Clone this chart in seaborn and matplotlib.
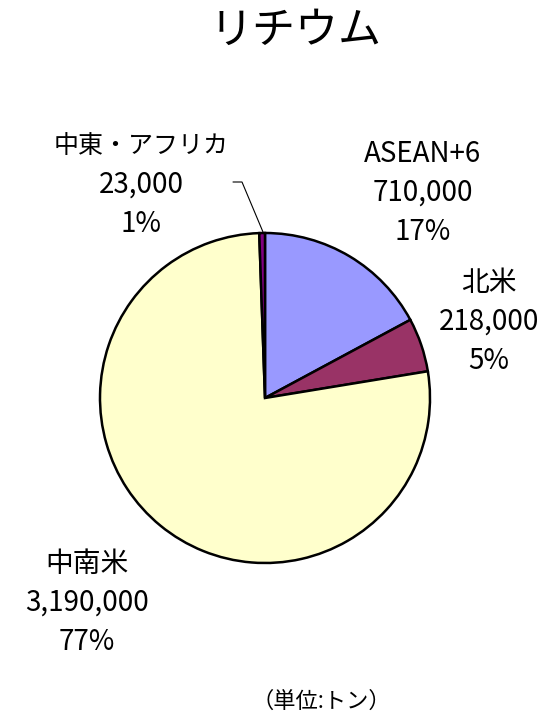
import matplotlib
matplotlib.use("Agg")
import matplotlib.pyplot as plt
import seaborn as sns

# Lithium reserves by region (tonnes)
regions = ["ASEAN+6", "北米", "中南米", "中東・アフリカ"]
amounts = [710000, 218000, 3190000, 23000]
slice_colors = ["#9999FF", "#993366", "#FFFFCC", "#800080"]

title = "リチウム"
unit_note = "（単位:トン）"

sns.set_theme(style="white")
plt.rcParams["font.family"] = ["Noto Sans CJK JP", "DejaVu Sans"]

W, H = 559, 719
fig = plt.figure(figsize=(W / 100, H / 100), dpi=100)
ax = fig.add_axes([0, 0, 1, 1])

palette = sns.color_palette(slice_colors)
ax.pie(amounts, colors=palette, startangle=90, counterclock=False,
       center=(265, 321), radius=165,
       wedgeprops=dict(edgecolor="black", linewidth=1.8))

# pixel-based canvas coordinates (pie resets the limits, so set them afterwards)
ax.set_xlim(0, W)
ax.set_ylim(0, H)
ax.set_aspect("equal")
ax.axis("off")

total = sum(amounts)
# centre of the middle line of each label block
label_pos = {
    "ASEAN+6": (423, 719 - 193),
    "北米": (489, 719 - 322),
    "中南米": (87, 719 - 603),
    "中東・アフリカ": (141, 719 - 185),
}
line_gap = 39
for name, val in zip(regions, amounts):
    pct = round(val / total * 100)
    x, y = label_pos[name]
    # the full-width middle dot makes this name run wide, so set it a bit smaller
    name_size = 18 if "・" in name else 20
    ax.text(x, y + line_gap, name, ha="center", va="center",
            fontsize=name_size, color="black")
    ax.text(x, y, f"{val:,}", ha="center", va="center",
            fontsize=20, color="black")
    ax.text(x, y - line_gap, f"{pct}%", ha="center", va="center",
            fontsize=20, color="black")

# leader line for the smallest slice
ax.plot([233, 242, 263], [719 - 182, 719 - 182, 719 - 232],
        color="black", linewidth=0.8)

ax.text(296, 719 - 31, title, ha="center", va="center", fontsize=31, color="black")
ax.text(321, 719 - 701, unit_note, ha="center", va="center", fontsize=16, color="black")

fig.savefig("out.png", dpi=100, facecolor="white")
